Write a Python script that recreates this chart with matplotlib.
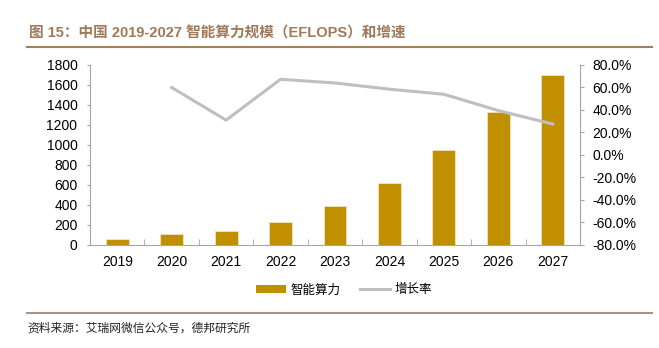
import numpy as np
import matplotlib.pyplot as plt
from matplotlib.lines import Line2D
from matplotlib.patches import Patch

plt.rcParams['font.family'] = ['Liberation Sans', 'Noto Sans CJK SC', 'DejaVu Sans']

years = ['2019', '2020', '2021', '2022', '2023', '2024', '2025', '2026', '2027']
compute = [63, 107, 137, 232, 388, 617, 945, 1328, 1700]
growth = [np.nan, 60.0, 31.0, 67.3, 64.0, 58.5, 54.0, 39.5, 27.5]

bar_color = '#C09000'
line_color = '#BFBFBF'
axis_color = '#A6A6A6'

fig = plt.figure(figsize=(6.59, 3.48), dpi=100)
ax = fig.add_axes([90 / 659, 1 - 245 / 348, 490 / 659, 180 / 348])
x = np.arange(len(years))
ax.bar(x, compute, width=0.42, color=bar_color, edgecolor='#F2E6C0', linewidth=0.6, zorder=2)
ax.set_xlim(-0.5, len(years) - 0.5)
ax.set_ylim(0, 1800)
ax.set_yticks(np.arange(0, 1801, 200))
ax.set_xticks(x)
ax.set_xticklabels(years)
ax.set_xticks(np.arange(0.5, len(years) - 1, 1), minor=True)
ax.tick_params(axis='x', which='major', length=0, pad=7, labelsize=10)
ax.tick_params(axis='x', which='minor', direction='in', length=4, color=axis_color)
ax.tick_params(axis='y', length=2, color=axis_color, labelsize=10, pad=7)
for s in ['top', 'right']:
    ax.spines[s].set_visible(False)
for s in ['left', 'bottom']:
    ax.spines[s].set_color(axis_color)
    ax.spines[s].set_linewidth(0.8)

ax2 = ax.twinx()
ax2.plot(x, growth, color=line_color, linewidth=2.2, zorder=3)
ax2.set_ylim(-80, 80)
ax2.set_yticks(np.arange(-80, 81, 20))
ax2.set_yticklabels(['%.1f%%' % v for v in np.arange(-80, 81, 20)])
ax2.tick_params(axis='y', length=3, color=axis_color, labelsize=10, pad=6)
for s in ['top', 'left', 'bottom']:
    ax2.spines[s].set_visible(False)
ax2.spines['right'].set_color(axis_color)
ax2.spines['right'].set_linewidth(0.8)

handles = [Patch(facecolor=bar_color, edgecolor='none'),
           Line2D([0], [0], color=line_color, linewidth=2.2)]
fig.legend(handles, ['智能算力', '增长率'], loc='center', bbox_to_anchor=(344 / 659, 1 - 290 / 348),
           ncol=2, frameon=False, handlelength=2.4, handleheight=0.6,
           columnspacing=1.5, handletextpad=0.4,
           prop={'family': ['Noto Sans CJK SC'], 'size': 9})

fig.text(29 / 659, 1 - 33 / 348, '图 15：中国 2019-2027 智能算力规模（EFLOPS）和增速',
         fontsize=10.5, fontweight='bold', color='#A0785A', va='center', ha='left')
fig.add_artist(Line2D([27 / 659, 652 / 659], [1 - 46.5 / 348] * 2, color='#A57E5C', linewidth=1.5))
fig.add_artist(Line2D([27 / 659, 652 / 659], [1 - 313 / 348] * 2, color='#A89480', linewidth=1.5))
fig.text(27 / 659, 1 - 328 / 348, '资料来源：艾瑞网微信公众号，德邦研究所',
         fontsize=8.5, color='#222222', va='center', ha='left', family=['Noto Sans CJK SC'])

fig.savefig('out.png', dpi=100)
